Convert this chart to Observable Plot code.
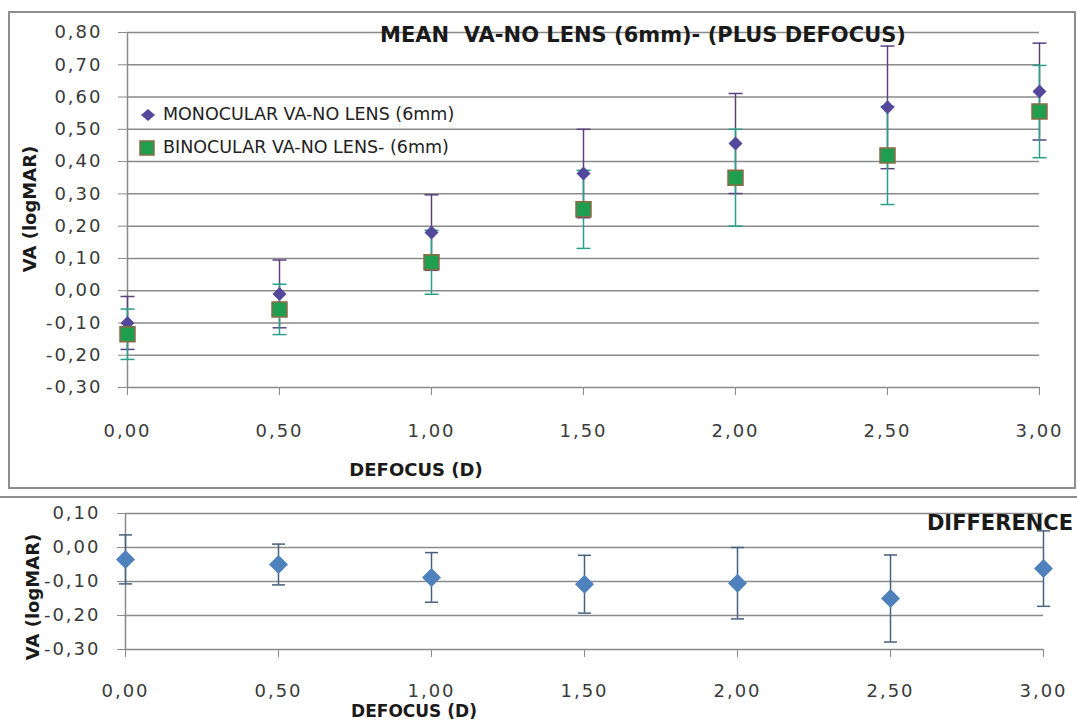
<!DOCTYPE html>
<html>
<head>
<meta charset="utf-8">
<script src="https://cdn.jsdelivr.net/npm/d3@7"></script>
<script src="https://cdn.jsdelivr.net/npm/@observablehq/plot@0.6"></script>
<style>
html, body { margin: 0; padding: 0; background: #fff; }
body { width: 1077px; height: 720px; position: relative; overflow: hidden; font-family: "DejaVu Sans", sans-serif; }
.chart { position: absolute; left: 0; }
.chart svg text { fill: #3a3a3a; }
.lbl { position: absolute; white-space: pre; color: #1a1a1a; font-weight: bold; line-height: 1; transform: translate(-50%, -50%); }
.rot { transform: translate(-50%, -50%) rotate(-90deg); }
.leg { position: absolute; white-space: pre; color: #222; font-size: 17.5px; line-height: 1; transform: translateY(-50%); }
.mk { position: absolute; transform: translate(-50%, -50%); }
.frame { position: absolute; left: 8px; top: 11px; width: 1068px; height: 478px; box-sizing: border-box; border: 2px solid #8e8e8e; }
.sep { position: absolute; left: 0; top: 496px; width: 1077px; border-top: 2px solid #8e8e8e; }
</style>
</head>
<body>
<div id="topChart" class="chart" style="top:0"></div>
<div id="botChart" class="chart" style="top:497px"></div>
<div class="frame"></div>
<div class="sep"></div>

<div class="lbl" style="left:643px;top:35px;font-size:21px">MEAN  VA-NO LENS (6mm)- (PLUS DEFOCUS)</div>
<div class="lbl" style="left:416px;top:470px;font-size:18px">DEFOCUS (D)</div>
<div class="lbl rot" style="left:30px;top:209px;font-size:18px">VA (logMAR)</div>

<svg class="mk" style="left:148px;top:115px" width="14" height="12" viewBox="-7 -6 14 12"><polygon points="0,-6 7,0 0,6 -7,0" fill="#54489c"/></svg>
<div class="leg" style="left:163px;top:115px">MONOCULAR VA-NO LENS (6mm)</div>
<svg class="mk" style="left:147px;top:148px" width="16" height="16" viewBox="-8 -8 16 16"><rect x="-7" y="-7" width="14" height="14" fill="#1f9e4f" stroke="#8b6b45" stroke-width="1.5"/></svg>
<div class="leg" style="left:163px;top:148px">BINOCULAR VA-NO LENS- (6mm)</div>

<div class="lbl" style="left:1000px;top:523px;font-size:21px">DIFFERENCE</div>
<div class="lbl rot" style="left:33px;top:597px;font-size:18px">VA (logMAR)</div>
<div class="lbl" style="left:414px;top:711px;font-size:17px">DEFOCUS (D)</div>

<script>
// ---- data ----
const defocus = [0, 0.5, 1, 1.5, 2, 2.5, 3];
const monoMean = [-0.10, -0.01, 0.18, 0.363, 0.456, 0.568, 0.617];
const monoErr  = [0.082, 0.105, 0.117, 0.137, 0.155, 0.19, 0.15];
const binoMean = [-0.135, -0.058, 0.088, 0.252, 0.35, 0.419, 0.555];
const binoErr  = [0.078, 0.078, 0.099, 0.121, 0.15, 0.152, 0.143];
const diffMean = [-0.035, -0.05, -0.088, -0.108, -0.105, -0.15, -0.062];
const diffErr  = [0.072, 0.06, 0.073, 0.085, 0.105, 0.128, 0.111];
const xTicks = [0, 0.5, 1, 1.5, 2, 2.5, 3];
const yTicksTop = [-0.3, -0.2, -0.1, 0, 0.1, 0.2, 0.3, 0.4, 0.5, 0.6, 0.7, 0.8];
const yTicksBot = [-0.3, -0.2, -0.1, 0, 0.1];

const fmt = d => d.toFixed(2).replace(".", ",");
const rows = (means, errs) => defocus.map((x, i) => ({x, y: means[i], lo: means[i] - errs[i], hi: means[i] + errs[i]}));
const caps = r => r.flatMap(d => [{x: d.x, y: d.lo}, {x: d.x, y: d.hi}]);
const mono = rows(monoMean, monoErr);
const bino = rows(binoMean, binoErr);
const diff = rows(diffMean, diffErr);

const capSymbol = {draw(ctx, size) { const w = Math.sqrt(size) / 2; ctx.moveTo(-w, 0); ctx.lineTo(w, 0); }};
const diamondSymbol = {draw(ctx, size) { const r = Math.sqrt(size) / 2; ctx.moveTo(0, -r); ctx.lineTo(r, 0); ctx.lineTo(0, r); ctx.lineTo(-r, 0); ctx.closePath(); }};
const rFor = half => half * 2 / Math.sqrt(Math.PI);

const grid = "#8a8a8a";
const purpleBar = "#5b4080", tealBar = "#2aa08a", blueBar = "#46607f";
const axisStyle = {fontFamily: "DejaVu Sans", fontSize: "18px", letterSpacing: "2px", color: grid, background: "transparent"};

const topPlot = Plot.plot({
  width: 1077, height: 490,
  marginLeft: 127, marginRight: 38, marginTop: 32, marginBottom: 103,
  style: axisStyle,
  x: {domain: [0, 3], ticks: xTicks, tickFormat: fmt, tickSize: 8, tickPadding: 29, label: null},
  y: {domain: [-0.3, 0.8], ticks: yTicksTop, tickFormat: fmt, tickSize: 9, tickPadding: 16, label: null},
  marks: [
    Plot.ruleY(yTicksTop, {stroke: grid, strokeWidth: 1.5}),
    Plot.ruleX([0], {stroke: grid, strokeWidth: 1.5}),
    Plot.ruleX(mono, {x: "x", y1: "lo", y2: "hi", stroke: purpleBar, strokeWidth: 1.5}),
    Plot.dot(caps(mono), {x: "x", y: "y", symbol: capSymbol, r: rFor(7), stroke: purpleBar, strokeWidth: 1.5, fill: "none"}),
    Plot.ruleX(bino, {x: "x", y1: "lo", y2: "hi", stroke: tealBar, strokeWidth: 1.5}),
    Plot.dot(caps(bino), {x: "x", y: "y", symbol: capSymbol, r: rFor(7), stroke: tealBar, strokeWidth: 1.5, fill: "none"}),
    Plot.dot(mono, {x: "x", y: "y", symbol: diamondSymbol, r: rFor(7), fill: "#54489c", stroke: "none"}),
    Plot.dot(bino, {x: "x", y: "y", symbol: "square", r: Math.sqrt(225 / Math.PI), fill: "#1f9e4f", stroke: "#8b6b45", strokeWidth: 1.5})
  ]
});
document.getElementById("topChart").appendChild(topPlot);

const botPlot = Plot.plot({
  width: 1077, height: 223,
  marginLeft: 125, marginRight: 34, marginTop: 16, marginBottom: 71,
  style: axisStyle,
  x: {domain: [0, 3], ticks: xTicks, tickFormat: fmt, tickSize: 8, tickPadding: 27, label: null},
  y: {domain: [-0.3, 0.1], ticks: yTicksBot, tickFormat: fmt, tickSize: 8, tickPadding: 17, label: null},
  marks: [
    Plot.ruleY(yTicksBot, {stroke: grid, strokeWidth: 1.5}),
    Plot.ruleX([0], {stroke: grid, strokeWidth: 1.5}),
    Plot.ruleX(diff, {x: "x", y1: "lo", y2: "hi", stroke: blueBar, strokeWidth: 1.5}),
    Plot.dot(caps(diff), {x: "x", y: "y", symbol: capSymbol, r: rFor(6.5), stroke: blueBar, strokeWidth: 1.5, fill: "none"}),
    Plot.dot(diff, {x: "x", y: "y", symbol: diamondSymbol, r: rFor(9.5), fill: "#4f81bd", stroke: "none"})
  ]
});
document.getElementById("botChart").appendChild(botPlot);
</script>
</body>
</html>
